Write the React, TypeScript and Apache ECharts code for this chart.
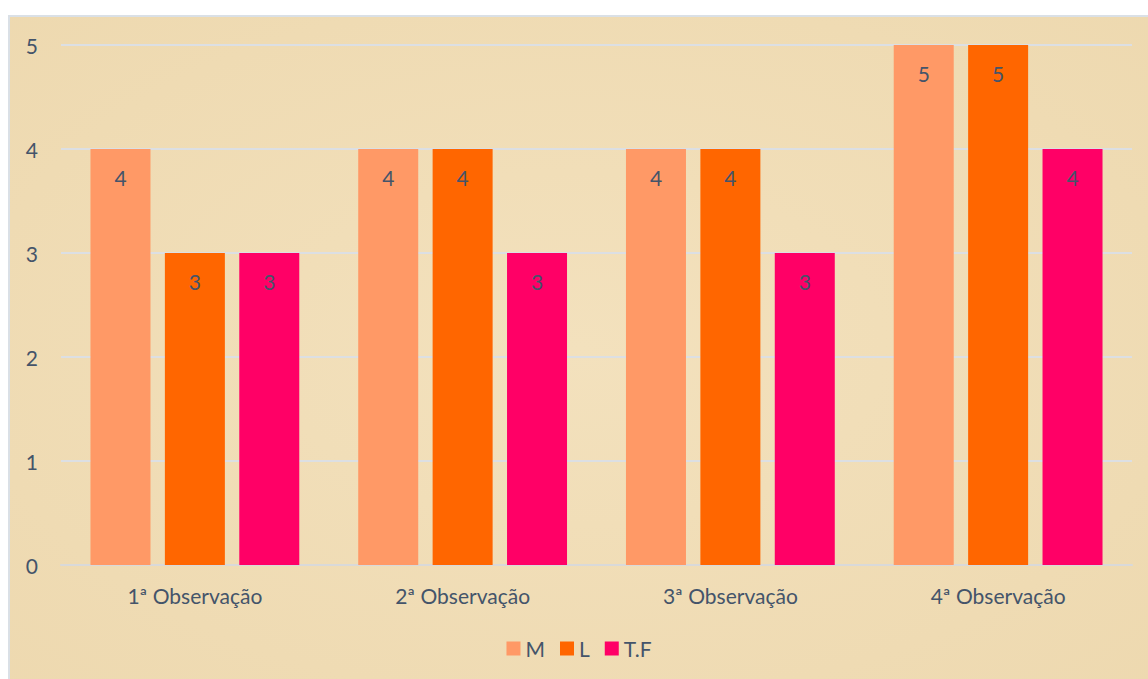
import React, { useEffect, useRef } from "react";
import * as echarts from "echarts";

const categories = ["1ª Observação", "2ª Observação", "3ª Observação", "4ª Observação"];
const seriesNames = ["M", "L", "T.F"];
const valuesM = [4, 4, 4, 5];
const valuesL = [3, 4, 4, 5];
const valuesTF = [3, 3, 3, 4];
const colors = ["#FF9966", "#FF6600", "#FF0066"];

export default function App() {
  const ref = useRef<HTMLDivElement>(null);
  useEffect(() => {
    if (!ref.current) return;
    const chart = echarts.init(ref.current, null, { renderer: "svg" });
    const font = "Lato";
    const textColor = "#44546A";
    const data = [valuesM, valuesL, valuesTF];
    chart.setOption({
      animation: false,
      backgroundColor: {
        type: "radial",
        x: 0.5,
        y: 0.5,
        r: 0.8,
        colorStops: [
          { offset: 0, color: "#F3E1BD" },
          { offset: 1, color: "#EDD8AE" },
        ],
      },
      textStyle: { fontFamily: font },
      grid: { left: 51, right: 16, top: 28, height: 520, containLabel: false },
      legend: {
        bottom: 15,
        left: "center",
        itemWidth: 14,
        itemHeight: 14,
        itemGap: 15,
        icon: "rect",
        textStyle: { fontFamily: font, fontSize: 21, color: textColor },
        data: seriesNames,
      },
      xAxis: {
        type: "category",
        data: categories,
        axisLine: { lineStyle: { color: "#D9D9D9", width: 2 } },
        axisTick: { show: false },
        axisLabel: { fontFamily: font, fontSize: 21, color: textColor, margin: 20 },
      },
      yAxis: {
        type: "value",
        min: 0,
        max: 5,
        interval: 1,
        axisLine: { show: false },
        axisTick: { show: false },
        splitLine: { lineStyle: { color: "#DCDFE3", width: 2 } },
        axisLabel: { fontFamily: font, fontSize: 21, color: textColor, margin: 23 },
      },
      series: seriesNames.map((name, i) => ({
        name,
        type: "bar",
        data: data[i],
        barWidth: 60,
        barGap: "24%",
        itemStyle: { color: colors[i] },
        label: {
          show: true,
          position: "insideTop",
          distance: 18,
          fontFamily: font,
          fontSize: 21,
          color: textColor,
        },
      })),
    });
    return () => chart.dispose();
  }, []);
  return (
    <div
      style={{
        position: "absolute",
        left: 8,
        top: 15,
        borderLeft: "2px solid #DAE0E6",
        borderTop: "2px solid #DAE0E6",
      }}
    >
      <div ref={ref} style={{ width: 1138, height: 662 }} />
    </div>
  );
}
